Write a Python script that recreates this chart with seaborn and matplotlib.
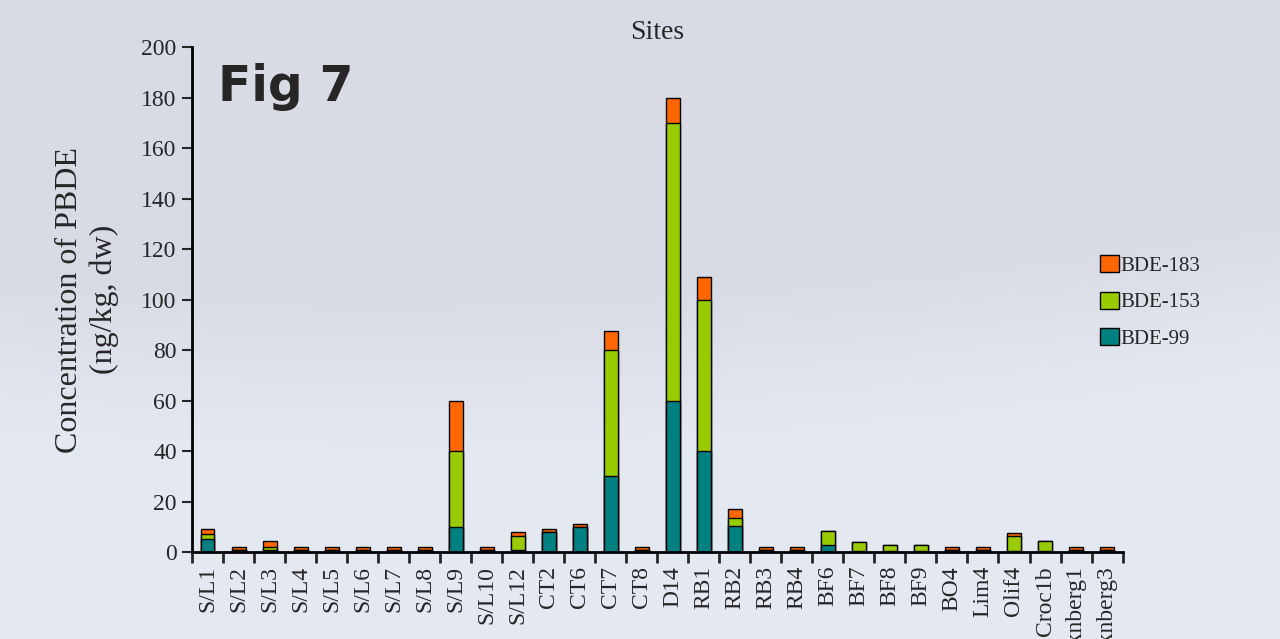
import numpy as np
import pandas as pd
import matplotlib
matplotlib.use("Agg")
import matplotlib.pyplot as plt
import seaborn as sns
from matplotlib.patches import Patch

sites = ["S/L1", "S/L2", "S/L3", "S/L4", "S/L5", "S/L6", "S/L7", "S/L8", "S/L9", "S/L10",
         "S/L12", "CT2", "CT6", "CT7", "CT8", "D14", "RB1", "RB2", "RB3", "RB4",
         "BF6", "BF7", "BF8", "BF9", "BO4", "Lim4", "Olif4", "Croc1b", "Jonknberg1", "Jonknberg3"]
bde99 = [5, 0.8, 1, 0.8, 0.8, 0.8, 0.8, 0.8, 10, 0.8,
         1, 8, 10, 30, 0.8, 60, 40, 10.5, 0.8, 0.8,
         3, 0.3, 0.3, 0.3, 0.8, 0.8, 0.5, 0.3, 0.8, 0.8]
bde153 = [2, 0, 1, 0, 0, 0, 0, 0, 30, 0,
          5.5, 0, 0, 50, 0, 110, 60, 3, 0, 0,
          5.5, 3.7, 2.7, 2.7, 0, 0, 6, 4, 0, 0]
bde183 = [2, 1.2, 2.5, 1.2, 1.2, 1.2, 1.2, 1.2, 20, 1.2,
          1.5, 1, 1, 7.5, 1.2, 10, 9, 3.5, 1.2, 1.2,
          0, 0, 0, 0, 1.2, 1.2, 1, 0, 1.2, 1.2]
series = ["BDE-183", "BDE-153", "BDE-99"]
colors = {"BDE-99": "#008080", "BDE-153": "#99CC00", "BDE-183": "#FF6600"}

df = pd.DataFrame({"site": sites, "BDE-99": bde99, "BDE-153": bde153, "BDE-183": bde183})
df["c99"] = df["BDE-99"]
df["c153"] = df["c99"] + df["BDE-153"]
df["c183"] = df["c153"] + df["BDE-183"]

sns.set_style("ticks")
plt.rcParams["font.family"] = ["Liberation Serif", "DejaVu Serif"]

fig = plt.figure(figsize=(12.8, 6.39), dpi=100)
fig.patch.set_facecolor("#dfe3ec")

# soft background gradient
bg = fig.add_axes([0, 0, 1, 1], zorder=-10)
yy, xx = np.mgrid[0:1:200j, 0:1:400j]
band = np.clip((yy - 0.45 + 0.25 * (xx - 0.3) ** 2) * 4, 0, 1)
grad = 0.86 + 0.05 * band
bg.imshow(np.dstack([grad * 0.985, grad * 1.0, grad * 1.04]).clip(0, 1),
          aspect="auto", extent=[0, 1, 0, 1], origin="upper")
bg.axis("off")

ax = fig.add_axes([0.15, 0.136, 0.727, 0.79])
ax.set_facecolor("none")

# stacked bars: draw cumulative totals back to front
for col, name in [("c183", "BDE-183"), ("c153", "BDE-153"), ("c99", "BDE-99")]:
    sns.barplot(data=df, x="site", y=col, color=colors[name], width=0.45,
                edgecolor="black", linewidth=1, saturation=1, ax=ax)

ax.set_xlim(-0.5, len(sites) - 0.5)
ax.set_ylim(0, 200)
ax.set_yticks(range(0, 201, 20))
ax.tick_params(axis="y", labelsize=17, length=7, width=1.5, direction="out", pad=4)
ax.set_xticks(range(len(sites)))
ax.set_xticklabels(sites, rotation=90, fontsize=17)
ax.tick_params(axis="x", which="major", length=0, pad=10)
ax.set_xticks(np.arange(-0.5, len(sites), 1), minor=True)
ax.tick_params(axis="x", which="minor", length=8, width=2, direction="out")
for s in ["left", "bottom"]:
    ax.spines[s].set_linewidth(2)
    ax.spines[s].set_color("black")
sns.despine(ax=ax)

ax.set_xlabel("")
ax.set_ylabel("Concentration of PBDE\n(ng/kg, dw)", fontsize=23, labelpad=16, linespacing=1.25)
ax.set_title("Sites", fontsize=20, pad=6)

fig.text(0.17, 0.842, "Fig 7", fontsize=35, fontweight="bold", family=["DejaVu Sans"])

handles = [Patch(facecolor=colors[s], edgecolor="black", label=s) for s in series]
leg = fig.legend(handles=handles, loc="upper left", bbox_to_anchor=(0.845, 0.63),
                 frameon=False, fontsize=15, handlelength=0.9, handleheight=0.9,
                 handletextpad=0.05, labelspacing=0.75)

fig.savefig("out.png", dpi=100, facecolor=fig.get_facecolor())
